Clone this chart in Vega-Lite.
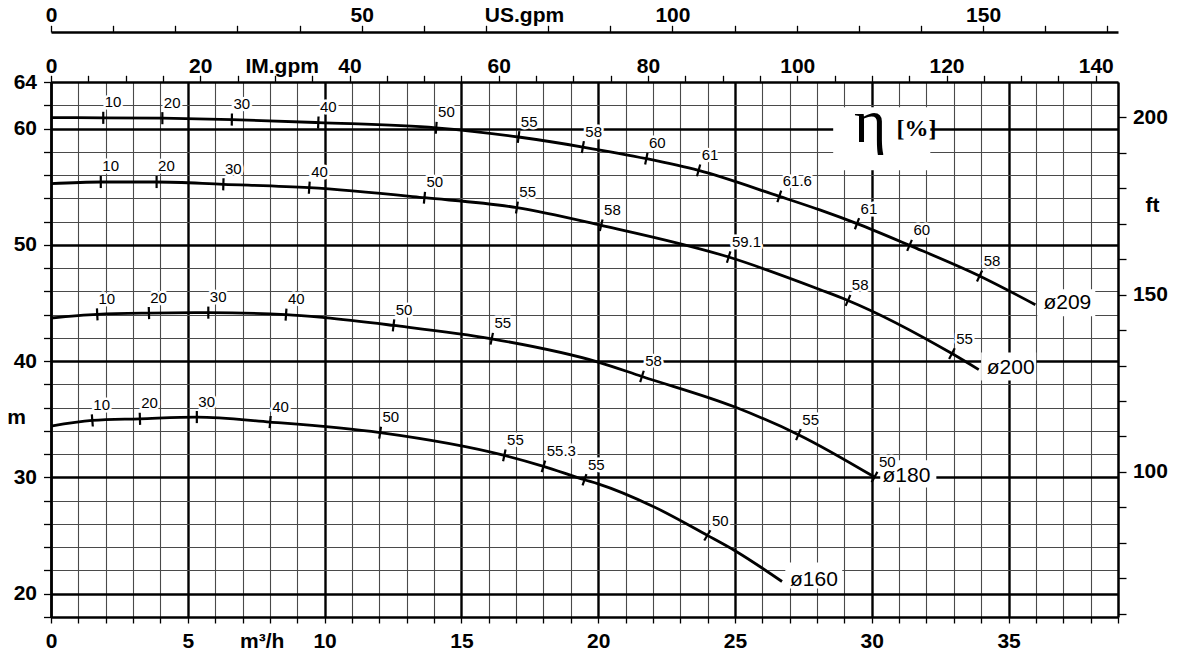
{
  "$schema": "https://vega.github.io/schema/vega-lite/v6.json",
  "width": 1067,
  "height": 535,
  "autosize": {"type": "none"},
  "padding": {"left": 51, "top": 82, "right": 63, "bottom": 39},
  "background": "white",
  "config": {"view": {"stroke": null}, "font": "Liberation Sans"},
  "datasets": {
    "curves": [
      {"d": "ø209", "q": 0, "h": 60.94}, {"d": "ø209", "q": 1.91, "h": 60.92}, {"d": "ø209", "q": 4.07, "h": 60.89}, {"d": "ø209", "q": 6.61, "h": 60.77}, {"d": "ø209", "q": 9.77, "h": 60.51}, {"d": "ø209", "q": 14.08, "h": 60.06}, {"d": "ø209", "q": 17.09, "h": 59.27}, {"d": "ø209", "q": 19.44, "h": 58.41}, {"d": "ø209", "q": 21.76, "h": 57.41}, {"d": "ø209", "q": 23.67, "h": 56.4}, {"d": "ø209", "q": 26.62, "h": 54.17}, {"d": "ø209", "q": 28.1, "h": 53.0}, {"d": "ø209", "q": 29.46, "h": 51.82}, {"d": "ø209", "q": 31.38, "h": 49.95}, {"d": "ø209", "q": 33.94, "h": 47.32}, {"d": "ø209", "q": 35.98, "h": 44.85},
      {"d": "ø200", "q": 0, "h": 55.26}, {"d": "ø200", "q": 1.82, "h": 55.4}, {"d": "ø200", "q": 3.86, "h": 55.4}, {"d": "ø200", "q": 6.3, "h": 55.2}, {"d": "ø200", "q": 9.44, "h": 54.91}, {"d": "ø200", "q": 13.65, "h": 54.05}, {"d": "ø200", "q": 17.03, "h": 53.2}, {"d": "ø200", "q": 20.11, "h": 51.68}, {"d": "ø200", "q": 24.77, "h": 48.95}, {"d": "ø200", "q": 28.12, "h": 46.14}, {"d": "ø200", "q": 29.13, "h": 45.22}, {"d": "ø200", "q": 32.93, "h": 40.65}, {"d": "ø200", "q": 33.91, "h": 39.27},
      {"d": "ø180", "q": 0, "h": 43.71}, {"d": "ø180", "q": 1.69, "h": 44.02}, {"d": "ø180", "q": 3.58, "h": 44.13}, {"d": "ø180", "q": 5.75, "h": 44.17}, {"d": "ø180", "q": 8.59, "h": 44.0}, {"d": "ø180", "q": 10, "h": 43.74}, {"d": "ø180", "q": 12.52, "h": 43.07}, {"d": "ø180", "q": 16.11, "h": 41.92}, {"d": "ø180", "q": 20, "h": 39.92}, {"d": "ø180", "q": 21.6, "h": 38.68}, {"d": "ø180", "q": 25, "h": 36.05}, {"d": "ø180", "q": 27.32, "h": 33.68}, {"d": "ø180", "q": 30.1, "h": 30.03},
      {"d": "ø160", "q": 0, "h": 34.41}, {"d": "ø160", "q": 1.51, "h": 34.9}, {"d": "ø160", "q": 3.25, "h": 35.04}, {"d": "ø160", "q": 5.33, "h": 35.19}, {"d": "ø160", "q": 8.01, "h": 34.76}, {"d": "ø160", "q": 12.03, "h": 33.85}, {"d": "ø160", "q": 16.57, "h": 31.89}, {"d": "ø160", "q": 18.0, "h": 30.95}, {"d": "ø160", "q": 19.5, "h": 29.8}, {"d": "ø160", "q": 20, "h": 29.45}, {"d": "ø160", "q": 21.97, "h": 27.55}, {"d": "ø160", "q": 23.99, "h": 25.02}, {"d": "ø160", "q": 25, "h": 23.7}, {"d": "ø160", "q": 26.72, "h": 21.05}
    ],
    "ticks": [
      {"d": "ø209", "eta": "10", "q": 1.91, "h": 60.4, "q2": 1.91, "h2": 61.44},
      {"d": "ø209", "eta": "20", "q": 4.07, "h": 60.37, "q2": 4.07, "h2": 61.41},
      {"d": "ø209", "eta": "30", "q": 6.606, "h": 60.25, "q2": 6.614, "h2": 61.29},
      {"d": "ø209", "eta": "40", "q": 9.762, "h": 59.99, "q2": 9.778, "h2": 61.03},
      {"d": "ø209", "eta": "50", "q": 14.065, "h": 59.55, "q2": 14.095, "h2": 60.57},
      {"d": "ø209", "eta": "55", "q": 17.061, "h": 58.76, "q2": 17.119, "h2": 59.78},
      {"d": "ø209", "eta": "58", "q": 19.403, "h": 57.9, "q2": 19.477, "h2": 58.92},
      {"d": "ø209", "eta": "60", "q": 21.717, "h": 56.9, "q2": 21.803, "h2": 57.92},
      {"d": "ø209", "eta": "61", "q": 23.61, "h": 55.9, "q2": 23.73, "h2": 56.9},
      {"d": "ø209", "eta": "61.6", "q": 26.55, "h": 53.68, "q2": 26.69, "h2": 54.66},
      {"d": "ø209", "eta": "61", "q": 29.383, "h": 51.34, "q2": 29.537, "h2": 52.3},
      {"d": "ø209", "eta": "60", "q": 31.294, "h": 49.48, "q2": 31.466, "h2": 50.43},
      {"d": "ø209", "eta": "58", "q": 33.846, "h": 46.85, "q2": 34.034, "h2": 47.79},
      {"d": "ø200", "eta": "10", "q": 1.82, "h": 54.88, "q2": 1.82, "h2": 55.92},
      {"d": "ø200", "eta": "20", "q": 3.86, "h": 54.88, "q2": 3.86, "h2": 55.92},
      {"d": "ø200", "eta": "30", "q": 6.294, "h": 54.68, "q2": 6.306, "h2": 55.72},
      {"d": "ø200", "eta": "40", "q": 9.425, "h": 54.39, "q2": 9.455, "h2": 55.43},
      {"d": "ø200", "eta": "50", "q": 13.629, "h": 53.54, "q2": 13.671, "h2": 54.56},
      {"d": "ø200", "eta": "55", "q": 16.996, "h": 52.69, "q2": 17.064, "h2": 53.71},
      {"d": "ø200", "eta": "58", "q": 20.06, "h": 51.18, "q2": 20.16, "h2": 52.18},
      {"d": "ø200", "eta": "59.1", "q": 24.706, "h": 48.46, "q2": 24.834, "h2": 49.44},
      {"d": "ø200", "eta": "58", "q": 29.043, "h": 44.75, "q2": 29.217, "h2": 45.69},
      {"d": "ø200", "eta": "55", "q": 32.827, "h": 40.19, "q2": 33.033, "h2": 41.11},
      {"d": "ø180", "eta": "10", "q": 1.701, "h": 43.5, "q2": 1.679, "h2": 44.54},
      {"d": "ø180", "eta": "20", "q": 3.586, "h": 43.61, "q2": 3.574, "h2": 44.65},
      {"d": "ø180", "eta": "30", "q": 5.75, "h": 43.65, "q2": 5.75, "h2": 44.69},
      {"d": "ø180", "eta": "40", "q": 8.575, "h": 43.48, "q2": 8.605, "h2": 44.52},
      {"d": "ø180", "eta": "50", "q": 12.494, "h": 42.56, "q2": 12.546, "h2": 43.58},
      {"d": "ø180", "eta": "55", "q": 16.066, "h": 41.42, "q2": 16.154, "h2": 42.43},
      {"d": "ø180", "eta": "58", "q": 21.534, "h": 38.19, "q2": 21.666, "h2": 39.17},
      {"d": "ø180", "eta": "55", "q": 27.233, "h": 33.21, "q2": 27.407, "h2": 34.15},
      {"d": "ø180", "eta": "50", "q": 29.994, "h": 29.58, "q2": 30.206, "h2": 30.48},
      {"d": "ø160", "eta": "10", "q": 1.528, "h": 34.38, "q2": 1.492, "h2": 35.42},
      {"d": "ø160", "eta": "20", "q": 3.257, "h": 34.52, "q2": 3.243, "h2": 35.56},
      {"d": "ø160", "eta": "30", "q": 5.33, "h": 34.67, "q2": 5.33, "h2": 35.71},
      {"d": "ø160", "eta": "40", "q": 7.991, "h": 34.24, "q2": 8.029, "h2": 35.28},
      {"d": "ø160", "eta": "50", "q": 11.999, "h": 33.34, "q2": 12.061, "h2": 34.36},
      {"d": "ø160", "eta": "55", "q": 16.525, "h": 31.39, "q2": 16.615, "h2": 32.4},
      {"d": "ø160", "eta": "55.3", "q": 17.936, "h": 30.46, "q2": 18.064, "h2": 31.44},
      {"d": "ø160", "eta": "55", "q": 19.429, "h": 29.31, "q2": 19.571, "h2": 30.29},
      {"d": "ø160", "eta": "50", "q": 23.877, "h": 24.58, "q2": 24.103, "h2": 25.46}
    ],
    "ends": [
      {"d": "ø209", "q": 35.98, "h": 44.85},
      {"d": "ø200", "q": 33.91, "h": 39.27},
      {"d": "ø180", "q": 30.1, "h": 30.03},
      {"d": "ø160", "q": 26.72, "h": 21.05}
    ],
    "boxes": [
      {"q": 28.59, "q2": 32.14, "h": 56.41, "h2": 61.82},
      {"q": 36.05, "q2": 38.17, "h": 43.85, "h2": 46.17},
      {"q": 34.0, "q2": 36.01, "h": 38.34, "h2": 40.75},
      {"q": 30.31, "q2": 32.36, "h": 29.14, "h2": 31.47},
      {"q": 26.84, "q2": 28.92, "h": 20.46, "h2": 22.69}
    ],
    "eta": [{"t": "η", "q": 29.94, "h": 58.84}],
    "pct": [{"t": "[%]", "q": 30.9, "h": 59.33}]
  },
  "layer": [
    {
      "encoding": {
        "x": {
          "field": "q", "type": "quantitative",
          "scale": {"domain": [0, 39], "nice": false, "zero": false},
          "axis": {
            "orient": "bottom",
            "values": [0,1,2,3,4,5,6,7,8,9,10,11,12,13,14,15,16,17,18,19,20,21,22,23,24,25,26,27,28,29,30,31,32,33,34,35,36,37,38,39],
            "labelExpr": "datum.value % 5 === 0 ? datum.label : ''",
            "grid": true,
            "gridColor": {"condition": {"test": "datum.value % 5 === 0", "value": "#000000"}, "value": "#4a4a4a"},
            "gridWidth": {"condition": {"test": "datum.value % 5 === 0", "value": 2.4}, "value": 1.1},
            "domainColor": "#000000", "domainWidth": 2.5,
            "tickColor": "#000000", "tickWidth": 1.3, "tickSize": 6,
            "labelFont": "Liberation Sans", "labelFontWeight": "bold", "labelFontSize": 21, "labelColor": "#000000",
            "labelBaseline": "alphabetic", "labelPadding": 24, "labelFlush": false, "labelOverlap": false,
            "title": "m³/h", "titleX": 210.7, "titleY": 30.5, "titleAlign": "center", "titleBaseline": "alphabetic",
            "titleFont": "Liberation Sans", "titleFontWeight": "bold", "titleFontSize": 21, "titleColor": "#000000"
          }
        },
        "y": {
          "field": "h", "type": "quantitative",
          "scale": {"domain": [18, 64], "nice": false, "zero": false},
          "axis": {
            "orient": "left",
            "values": [18,20,22,24,26,28,30,32,34,36,38,40,42,44,46,48,50,52,54,56,58,60,62,64],
            "labelExpr": "datum.value % 10 === 0 || datum.value === 64 ? datum.label : ''",
            "grid": true,
            "gridColor": {"condition": {"test": "datum.value % 10 === 0", "value": "#000000"}, "value": "#4a4a4a"},
            "gridWidth": {"condition": {"test": "datum.value % 10 === 0", "value": 2.4}, "value": 1.1},
            "domainColor": "#000000", "domainWidth": 2.5,
            "tickColor": "#000000", "tickWidth": 1.3, "tickSize": 7.5,
            "labelFont": "Liberation Sans", "labelFontWeight": "bold", "labelFontSize": 21, "labelColor": "#000000",
            "labelPadding": 7, "labelFlush": false, "labelOverlap": false,
            "title": "m", "titleAngle": 0, "titleX": -35, "titleY": 341, "titleAlign": "center", "titleBaseline": "alphabetic",
            "titleFont": "Liberation Sans", "titleFontWeight": "bold", "titleFontSize": 21, "titleColor": "#000000"
          }
        }
      },
      "layer": [
        {
          "data": {"name": "boxes"},
          "mark": {"type": "rect", "fill": "white", "stroke": null},
          "encoding": {"x2": {"field": "q2"}, "y2": {"field": "h2"}}
        },
        {
          "data": {"name": "ticks"},
          "mark": {"type": "text", "align": "left", "baseline": "alphabetic", "dx": 1.5, "dy": -4.5, "font": "Liberation Sans", "fontSize": 15, "fill": "white", "stroke": "white", "strokeWidth": 5, "strokeJoin": "round"},
          "encoding": {"x": {"field": "q2", "type": "quantitative"}, "y": {"field": "h2", "type": "quantitative"}, "text": {"field": "eta"}}
        },
        {
          "data": {"name": "curves"},
          "mark": {"type": "line", "interpolate": "monotone", "color": "black", "strokeWidth": 2.8, "strokeCap": "butt"},
          "encoding": {"detail": {"field": "d"}}
        },
        {
          "data": {"name": "ticks"},
          "mark": {"type": "rule", "color": "black", "strokeWidth": 2.2},
          "encoding": {"x2": {"field": "q2"}, "y2": {"field": "h2"}}
        },
        {
          "data": {"name": "ticks"},
          "mark": {"type": "text", "align": "left", "baseline": "alphabetic", "dx": 1.5, "dy": -4.5, "font": "Liberation Sans", "fontSize": 15, "fill": "black"},
          "encoding": {"x": {"field": "q2", "type": "quantitative"}, "y": {"field": "h2", "type": "quantitative"}, "text": {"field": "eta"}}
        },
        {
          "data": {"name": "ends"},
          "mark": {"type": "text", "align": "left", "baseline": "middle", "dx": 8, "dy": -1.5, "font": "Liberation Sans", "fontSize": 21, "fill": "black"},
          "encoding": {"text": {"field": "d"}}
        },
        {
          "data": {"name": "eta"},
          "mark": {"type": "text", "align": "center", "baseline": "alphabetic", "font": "Liberation Serif", "fontSize": 62, "fill": "black"},
          "encoding": {"text": {"field": "t"}}
        },
        {
          "data": {"name": "pct"},
          "mark": {"type": "text", "align": "left", "baseline": "alphabetic", "font": "Liberation Serif", "fontSize": 24, "fontWeight": "bold", "fill": "black"},
          "encoding": {"text": {"field": "t"}}
        }
      ]
    },
    {
      "data": {"values": [{"im_gpm": 0}, {"im_gpm": 140}]},
      "mark": {"type": "rule", "opacity": 0},
      "encoding": {
        "x": {
          "field": "im_gpm", "type": "quantitative",
          "scale": {"domain": [0, 142.98], "nice": false, "zero": false},
          "axis": {
            "orient": "top", "offset": 0,
            "values": [0,5,10,15,20,25,30,35,40,45,50,55,60,65,70,75,80,85,90,95,100,105,110,115,120,125,130,135,140],
            "labelExpr": "datum.value % 20 === 0 ? datum.label : ''",
            "grid": false,
            "domainColor": "#000000", "domainWidth": 2.5,
            "tickColor": "#000000", "tickWidth": 1.3, "tickSize": 6.7,
            "labelFont": "Liberation Sans", "labelFontWeight": "bold", "labelFontSize": 21, "labelColor": "#000000",
            "labelBaseline": "alphabetic", "labelPadding": 3.3, "labelFlush": false, "labelOverlap": false,
            "title": "IM.gpm", "titleX": 230.7, "titleY": -10, "titleAlign": "center", "titleBaseline": "alphabetic",
            "titleFont": "Liberation Sans", "titleFontWeight": "bold", "titleFontSize": 21, "titleColor": "#000000"
          }
        }
      }
    },
    {
      "data": {"values": [{"us_gpm": 0}, {"us_gpm": 170}]},
      "mark": {"type": "rule", "opacity": 0},
      "encoding": {
        "x": {
          "field": "us_gpm", "type": "quantitative",
          "scale": {"domain": [0, 171.71], "nice": false, "zero": false},
          "axis": {
            "orient": "top", "offset": 50,
            "values": [0,10,20,30,40,50,60,70,80,90,100,110,120,130,140,150,160,170],
            "labelExpr": "datum.value % 50 === 0 ? datum.label : ''",
            "grid": false,
            "domainColor": "#000000", "domainWidth": 2.3,
            "tickColor": "#000000", "tickWidth": 1.3, "tickSize": 6.7,
            "labelFont": "Liberation Sans", "labelFontWeight": "bold", "labelFontSize": 21, "labelColor": "#000000",
            "labelBaseline": "alphabetic", "labelPadding": 4.3, "labelFlush": false, "labelOverlap": false,
            "title": "US.gpm", "titleX": 473, "titleY": -11, "titleAlign": "center", "titleBaseline": "alphabetic",
            "titleFont": "Liberation Sans", "titleFontWeight": "bold", "titleFontSize": 21, "titleColor": "#000000"
          }
        }
      }
    },
    {
      "data": {"values": [{"ft": 60}, {"ft": 200}]},
      "mark": {"type": "rule", "opacity": 0},
      "encoding": {
        "y": {
          "field": "ft", "type": "quantitative",
          "scale": {"domain": [59.055, 209.974], "nice": false, "zero": false},
          "axis": {
            "orient": "right",
            "values": [60,70,80,90,100,110,120,130,140,150,160,170,180,190,200],
            "labelExpr": "datum.value % 50 === 0 ? datum.label : ''",
            "grid": false,
            "domainColor": "#000000", "domainWidth": 2.5,
            "tickColor": "#000000", "tickWidth": 1.3, "tickSize": 8,
            "labelFont": "Liberation Sans", "labelFontWeight": "bold", "labelFontSize": 21, "labelColor": "#000000",
            "labelPadding": 6.4, "labelFlush": false, "labelOverlap": false,
            "title": "ft", "titleAngle": 0, "titleX": 34, "titleY": 129, "titleAlign": "center", "titleBaseline": "alphabetic",
            "titleFont": "Liberation Sans", "titleFontWeight": "bold", "titleFontSize": 21, "titleColor": "#000000"
          }
        }
      }
    }
  ],
  "resolve": {"scale": {"x": "independent", "y": "independent"}}
}
